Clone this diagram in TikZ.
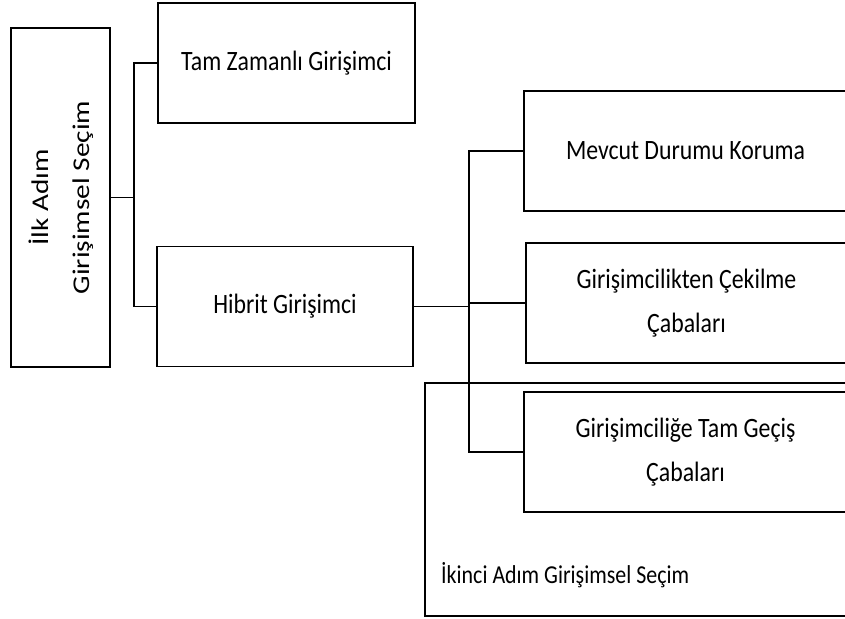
\documentclass[tikz,border=0pt]{standalone}
\usepackage{fontspec}
\newfontfamily\hfont{Carlito}[FakeStretch=0.85]
\newfontfamily\vfont{Carlito}[FakeStretch=1.22]
\begin{document}
\begin{tikzpicture}[x=1pt,y=-1pt,
  box/.style={draw=black,line width=1.3pt,inner sep=0pt,minimum height=120pt,align=center,
    font=\hfont\fontsize{28}{44}\selectfont},
  conn/.style={draw=black,line width=1.2pt}]
\useasboundingbox (0,0) rectangle (845,618);
\clip (0,0) rectangle (845,618);
\fill[white] (0,0) rectangle (845,618);
% outer second-step frame
\node[draw=black,line width=1.3pt,inner sep=0pt,minimum width=475pt,minimum height=233pt] (B) at (662.5,499.5) {};
\node[anchor=base west,inner sep=0pt,font=\hfont\fontsize{25.8}{30}\selectfont] (Blabel) at (441,583) {İkinci Adım Girişimsel Seçim};
% first step
\node[draw=black,line width=1.3pt,inner sep=0pt,minimum width=99pt,minimum height=339pt] (L) at (60.5,197.5)
  {\rotatebox{90}{\vfont\fontsize{24}{41}\selectfont\begin{tabular}{@{}c@{}}İlk Adım\\Girişimsel Seçim\end{tabular}}};
\node[box,minimum width=257pt] (T) at (286.5,63) {Tam Zamanlı Girişimci};
\node[box,minimum width=256pt] (H) at (285,306.5) {Hibrit Girişimci};
% second step
\node[box,minimum width=323pt] (M) at (685.5,151) {Mevcut Durumu Koruma};
\node[box,minimum width=321pt] (C) at (686.5,303) {Girişimcilikten Çekilme\\Çabaları};
\node[box,minimum width=323pt] (G) at (685.5,452) {Girişimciliğe Tam Geçiş\\Çabaları};
% connectors
\coordinate (j1) at (134,197.5);
\coordinate (j2) at (469,306.5);
\draw[conn,line width=1.7pt] (L.east) -- (j1);
\draw[conn] (T.west) -| (j1) |- (H.west);
\draw[conn] (H.east) -- (j2);
\draw[conn] (M.west) -| (j2) |- (G.west);
\draw[conn] (C.west) -- (j2 |- C.west);
\end{tikzpicture}
\end{document}
